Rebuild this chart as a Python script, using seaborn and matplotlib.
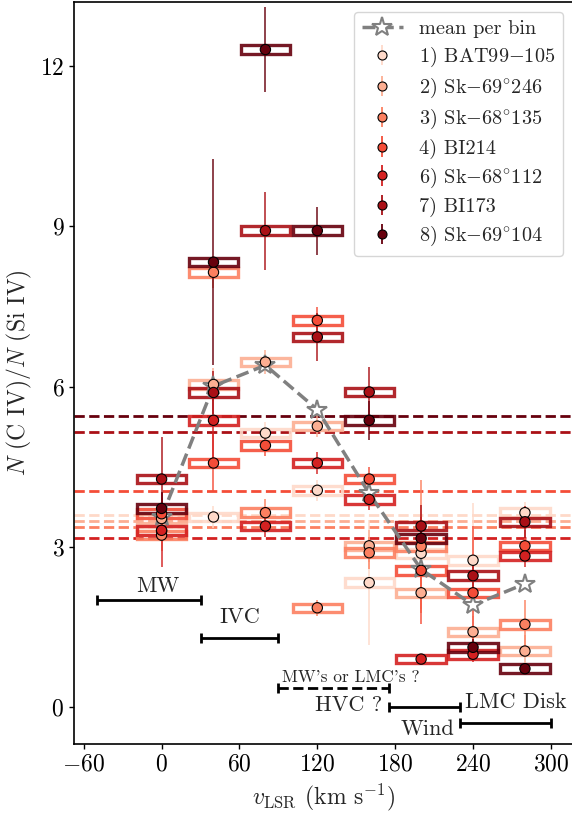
import numpy as np
import pandas as pd
import seaborn as sns
import matplotlib.pyplot as plt
from matplotlib.patches import Rectangle

# velocity bins (km/s)
bins = [0, 40, 80, 120, 160, 200, 240, 280]

labels = ['1) BAT99$-$105', r'2) Sk$-$69$^{\circ}$246', r'3) Sk$-$68$^{\circ}$135',
          '4) BI214', r'6) Sk$-$68$^{\circ}$112', '7) BI173', r'8) Sk$-$69$^{\circ}$104']

# N(CIV)/N(SiIV) per bin, one list per sightline (nan = no data)
nan = np.nan
ratio_1 = [3.30, 3.56, 5.13, 4.06, 2.33, 2.88, 2.75, 3.64]
ratio_2 = [3.53, 6.04, 6.46, 5.26, 3.02, 2.14, 1.41, 1.05]
ratio_3 = [3.22, 8.14, 3.64, 1.86, 2.89, 3.01, nan, 1.55]
ratio_4 = [3.62, 4.57, 4.90, 7.24, 4.27, 2.56, 2.14, 3.02]
ratio_6 = [3.31, 5.37, 3.39, 4.57, 3.89, 0.90, 0.99, 2.83]
ratio_7 = [4.27, 5.89, 8.92, 6.93, 5.90, 3.39, 2.46, 3.47]
ratio_8 = [3.72, 8.33, 12.31, 8.92, 5.37, 3.16, 1.12, 0.72]

err_1 = [0.20, 0.20, 0.20, 0.20, 1.17, 0.30, 1.07, 0.20]
err_2 = [0.20, 0.30, 0.22, 0.20, 0.30, 0.30, 0.30, 0.30]
err_3 = [0.30, 0.30, 0.25, 0.15, 0.30, 1.25, nan, 0.45]
err_4 = [0.30, 0.55, 0.20, 0.25, 0.23, 1.00, 1.25, 0.30]
err_6 = [0.69, 0.70, 0.20, 0.20, 0.20, 0.10, 0.15, 0.20]
err_7 = [0.79, 0.40, 0.73, 0.45, 0.47, 0.40, 0.30, 0.30]
err_8 = [0.30, 1.93, 0.80, 0.45, 0.37, 0.20, 0.15, 0.10]

# integrated ratio of each sightline (dashed lines)
sightline_ratio = [3.60, 3.49, 3.38, 4.04, 3.16, 5.15, 5.45]

mean_per_bin = [3.56, 6.01, 6.40, 5.57, 4.00, 2.58, 1.91, 2.31]

# velocity components
comp_names = ['MW', 'IVC', "MW's or LMC's ?", 'HVC ?', 'Wind', 'LMC Disk']
comp_lo = [-50, 30, 90, 175, 230]
comp_hi = [30, 90, 175, 230, 300]
comp_y = [2.0, 1.30, 0.36, 0.0, -0.30]

ratios = [ratio_1, ratio_2, ratio_3, ratio_4, ratio_6, ratio_7, ratio_8]
errs = [err_1, err_2, err_3, err_4, err_6, err_7, err_8]

df = pd.concat([pd.DataFrame({'v': bins, 'ratio': r, 'err': e, 'sightline': lab})
                for r, e, lab in zip(ratios, errs, labels)], ignore_index=True)
df = df.dropna()

sns.set_theme(style="ticks", rc={'axes.edgecolor': 'black', 'xtick.color': 'black',
                                 'ytick.color': 'black', 'axes.linewidth': 1.2,
                                 'xtick.major.size': 3.5, 'ytick.major.size': 3.5,
                                 'xtick.major.width': 1.0, 'ytick.major.width': 1.0})
plt.rcParams['font.family'] = ['cmr10', 'DejaVu Serif']
plt.rcParams['mathtext.fontset'] = 'cm'
plt.rcParams['axes.formatter.use_mathtext'] = True

reds = sns.color_palette("Reds", as_cmap=True)
colors = [reds(v) for v in np.linspace(0.15, 1.0, 7)]
pal = dict(zip(labels, colors))

fig = plt.figure(figsize=(5.72, 8.19), dpi=100)
ax = fig.add_axes([74 / 572, 75 / 819, 499.6 / 572, 742 / 819])

# dashed lines for each sightline
for lab, val in zip(labels, sightline_ratio):
    ax.axhline(val, color=pal[lab], ls='--', lw=2, zorder=1)

# boxes around each bin value
for _, row in df.iterrows():
    ax.add_patch(Rectangle((row['v'] - 19, row['ratio'] - 0.08), 38, 0.16, fill=False,
                           ec=pal[row['sightline']], lw=2.4, alpha=0.9, zorder=2))

# error bars
handles = []
for lab in labels:
    sub = df[df['sightline'] == lab]
    ax.errorbar(sub['v'], sub['ratio'], yerr=sub['err'], fmt='none',
                ecolor=pal[lab], elinewidth=1.3, alpha=0.8, zorder=3)
    h = ax.errorbar([], [], yerr=[], fmt='o', ms=6.5, mfc=pal[lab], mec='black', mew=0.8,
                    ecolor=pal[lab], elinewidth=1.3, label=lab)
    handles.append(h)

# mean per bin
sns.lineplot(x=bins, y=mean_per_bin, color='gray', lw=2.5, linestyle='--', marker='*',
             markersize=15, markerfacecolor='white', markeredgecolor='gray',
             markeredgewidth=1.5, zorder=4, ax=ax)
mean_line = ax.lines[-1]
mean_line.set_label('mean per bin')

sns.scatterplot(data=df, x='v', y='ratio', hue='sightline', palette=pal, s=55,
                edgecolor='black', linewidth=0.8, legend=False, zorder=5, ax=ax)

# velocity component ranges
for i, (lo, hi, y) in enumerate(zip(comp_lo, comp_hi, comp_y)):
    eb = ax.errorbar((lo + hi) / 2, y, xerr=(hi - lo) / 2, fmt='none', ecolor='black',
                     elinewidth=2, capsize=3.6, capthick=2)
    if i == 2:
        eb[2][0].set_linestyle('--')

ax.text(-3, 2.15, comp_names[0], ha='center', va='baseline', fontsize=16)
ax.text(60, 1.57, comp_names[1], ha='center', va='baseline', fontsize=16)
ax.text(146, 0.47, comp_names[2], ha='center', va='baseline', fontsize=12.5)
ax.text(144, -0.07, comp_names[3], ha='center', va='baseline', fontsize=16)
ax.text(205, -0.52, comp_names[4], ha='center', va='baseline', fontsize=16)
ax.text(273, -0.02, comp_names[5], ha='center', va='baseline', fontsize=16)

ax.set_xlim(-67.5, 317.5)
ax.set_ylim(-0.69, 13.2)
ax.set_xticks([-60, 0, 60, 120, 180, 240, 300])
ax.set_yticks([0, 3, 6, 9, 12])
ax.tick_params(labelsize=17)
ax.set_xlabel(r'$v_{\rm LSR}$ (km s$^{-1}$)', fontsize=17)
ax.set_ylabel(r'$N$ (C IV)/$N$ (Si IV)', fontsize=17)

ax.legend(handles=[mean_line] + handles, loc='upper right', fontsize=14.6,
          labelspacing=0.38, frameon=True)

plt.savefig('out.png', dpi=100)
